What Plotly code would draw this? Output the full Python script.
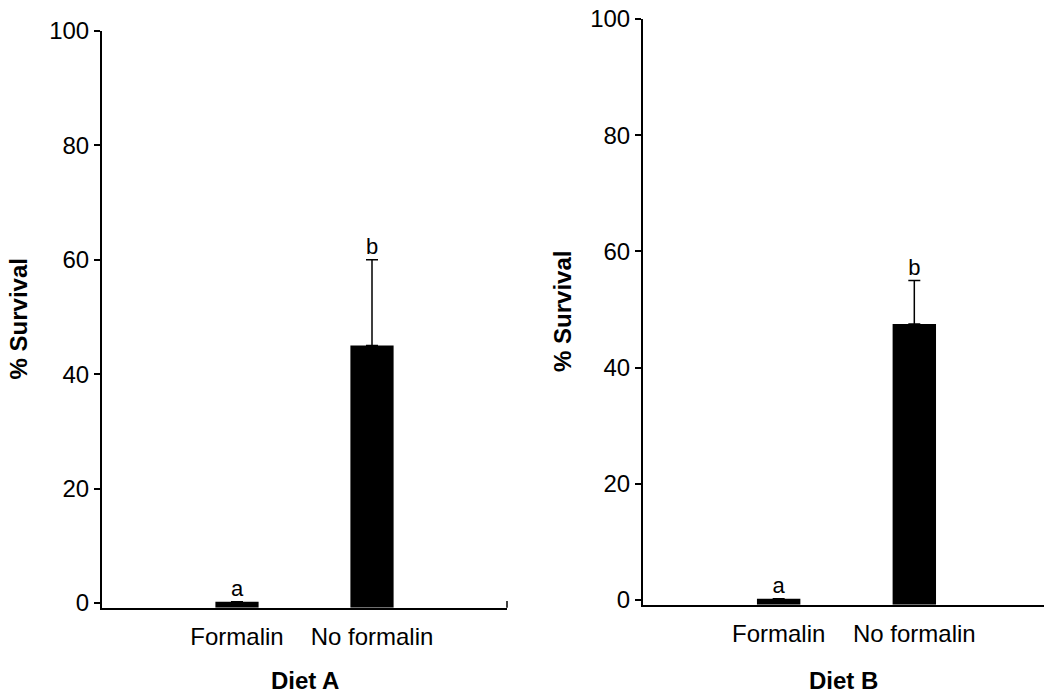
import plotly.graph_objects as go

categories = ["Formalin", "No formalin"]
diet_a_mean = [0.2, 45.0]
diet_a_err = [0.0, 15.0]
diet_a_letters = ["a", "b"]
diet_b_mean = [0.2, 47.5]
diet_b_err = [0.0, 7.5]
diet_b_letters = ["a", "b"]
panel_titles = ["Diet A", "Diet B"]
y_title = "% Survival"
y_ticks = [0, 20, 40, 60, 80, 100]

Y_MIN = -0.85
FONT = "Liberation Sans, Arial, sans-serif"
FS = 24

W, H = 1044, 693


def vy(px):
    """target screen y (px) -> paper fraction (calibrated for page capture)"""
    return 1 - (px / 0.9685 - 13.4) / H


fig = go.Figure()

panels = [
    (diet_a_mean, diet_a_err, diet_a_letters, "x", "y"),
    (diet_b_mean, diet_b_err, diet_b_letters, "x2", "y2"),
]
for mean, err, letters, xa, ya in panels:
    fig.add_trace(go.Bar(
        x=categories, y=[m - Y_MIN for m in mean], base=Y_MIN,
        width=0.32, marker=dict(color="black", line=dict(width=0)),
        error_y=dict(type="data", array=err, arrayminus=[0] * len(err),
                     symmetric=False, color="black", thickness=1.5, width=6),
        xaxis=xa, yaxis=ya, showlegend=False, hoverinfo="skip"))
    fig.add_trace(go.Scatter(
        x=categories, y=[m + e for m, e in zip(mean, err)],
        mode="text", text=letters, textposition="top center",
        textfont=dict(family=FONT, size=FS - 2, color="black"),
        xaxis=xa, yaxis=ya, showlegend=False, hoverinfo="skip"))

dom_left_x = [102 / W, 507 / W]
dom_left_y = [vy(607), vy(30)]
dom_right_x = [643 / W, 1.0]
dom_right_y = [vy(604), vy(18)]

common_x = dict(type="category", showline=True, linecolor="black", linewidth=2,
                ticks="", showgrid=False, zeroline=False,
                tickfont=dict(family=FONT, size=FS, color="black"), ticklabelstandoff=6)
common_y = dict(range=[Y_MIN, 100], tickvals=y_ticks, showline=True, linecolor="black",
                linewidth=2, ticks="outside", ticklen=6, tickwidth=1.5, tickcolor="black",
                showgrid=False, zeroline=False,
                tickfont=dict(family=FONT, size=FS, color="black"))

fig.update_layout(
    width=W, height=H, margin=dict(l=0, r=0, t=0, b=0),
    plot_bgcolor="white", paper_bgcolor="white",
    xaxis=dict(domain=dom_left_x, range=[-1, 2], anchor="y", **common_x),
    yaxis=dict(domain=dom_left_y, anchor="x", **common_y),
    xaxis2=dict(domain=dom_right_x, range=[-1, 1.956], anchor="y2", **common_x),
    yaxis2=dict(domain=dom_right_y, anchor="x2", **common_y),
)

# right-end tick of left x axis
fig.add_shape(type="line", xref="x domain", yref="y domain", x0=1, x1=1, y0=0, y1=0.012,
              line=dict(color="black", width=1.5))

# panel titles and y titles
title_x = [(dom_left_x[0] + dom_left_x[1]) / 2, 843 / W]
ytitle_x = [18 / W, 563 / W]
for i, dy in enumerate([dom_left_y, dom_right_y]):
    fig.add_annotation(text="<b>" + panel_titles[i] + "</b>", xref="paper", yref="paper",
                       x=title_x[i], y=vy(680), xanchor="center", yanchor="middle",
                       showarrow=False, font=dict(family=FONT, size=FS, color="black"))
    fig.add_annotation(text="<b>" + y_title + "</b>", xref="paper", yref="paper",
                       x=ytitle_x[i], y=(dy[0] + dy[1]) / 2, textangle=-90,
                       xanchor="center", yanchor="middle",
                       showarrow=False, font=dict(family=FONT, size=FS, color="black"))

fig.write_html("out.html", config={"displayModeBar": False},
               post_script="document.body.style.margin='0';document.body.style.overflow='hidden';")
